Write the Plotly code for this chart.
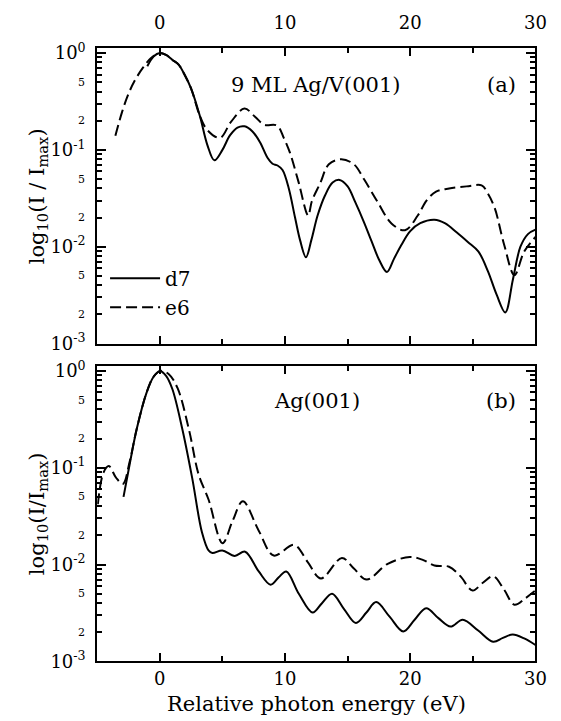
import math
import plotly.graph_objects as go

# ---------------- data ----------------
# Panel (a): 9 ML Ag/V(001)
a_d7_x = [-1.0, -0.5, 0.0, 0.5, 1.0, 1.5, 2.0, 2.5, 3.2, 3.8, 4.36, 5.0, 5.6, 6.2, 6.76, 7.4, 8.0,
          8.6, 9.0, 9.4, 9.8, 10.3, 10.8, 11.2, 11.67, 12.1, 12.6, 13.2, 13.8, 14.36, 15.0, 15.6,
          16.3, 16.9, 17.5, 18.14, 18.7, 19.3, 20.0, 20.8, 21.93, 22.8, 23.7, 24.6, 25.45, 26.2,
          26.9, 27.59, 28.2, 28.8, 29.4, 30.0]
a_d7_y = [0.73, 0.92, 1.0, 0.955, 0.85, 0.76, 0.59, 0.43, 0.224, 0.112, 0.078, 0.10, 0.141, 0.17,
          0.175, 0.155, 0.12, 0.083, 0.072, 0.069, 0.062, 0.040, 0.020, 0.0117, 0.0078, 0.0117,
          0.021, 0.034, 0.046, 0.049, 0.042, 0.029, 0.018, 0.0115, 0.0074, 0.0055, 0.0075, 0.0105,
          0.0145, 0.0175, 0.019, 0.0174, 0.0141, 0.0112, 0.0089, 0.0056, 0.0032, 0.0021, 0.0046,
          0.0100, 0.0135, 0.0150]
a_e6_x = [-3.55, -3.0, -2.5, -2.0, -1.33, -0.7, 0.0, 0.5, 1.0, 1.5, 2.0, 2.5, 3.2, 3.8, 4.8, 5.7,
          6.76, 7.6, 8.33, 9.37, 9.9, 10.4, 11.07, 11.85, 12.14, 12.8, 13.5, 14.49, 15.5, 16.3,
          17.36, 18.5, 19.58, 20.6, 21.3, 22.06, 23.1, 24.5, 25.7, 26.2, 26.75, 27.5, 28.32, 29.1,
          30.0]
a_e6_y = [0.14, 0.25, 0.38, 0.52, 0.71, 0.89, 1.0, 0.955, 0.85, 0.76, 0.59, 0.43, 0.224, 0.16,
          0.133, 0.196, 0.267, 0.22, 0.182, 0.178, 0.133, 0.093, 0.047, 0.021, 0.0295, 0.045,
          0.071, 0.080, 0.071, 0.050, 0.0295, 0.0174, 0.0148, 0.021, 0.030, 0.037, 0.040, 0.042,
          0.043, 0.0355, 0.025, 0.0105, 0.0051, 0.0089, 0.0126]

# Panel (b): Ag(001)
b_d7_x = [-2.9, -2.4, -1.85, -1.07, -0.5, 0.0, 0.5, 1.0, 1.8, 2.58, 3.37, 3.89, 4.2, 4.99, 5.98,
          6.81, 7.9, 8.85, 9.5, 10.1, 11.1, 12.2, 12.95, 13.76, 14.7, 15.66, 16.5, 17.28, 18.35,
          19.44, 20.35, 21.27, 22.25, 23.22, 24.19, 25.4, 26.62, 27.4, 28.19, 29.1, 30.0]
b_d7_y = [0.050, 0.11, 0.25, 0.59, 0.87, 1.0, 0.89, 0.65, 0.25, 0.079, 0.0214, 0.014, 0.0132,
          0.014, 0.0123, 0.0136, 0.0085, 0.0062, 0.0074, 0.0085, 0.0050, 0.0032, 0.0040, 0.0050,
          0.0035, 0.0025, 0.0032, 0.0041, 0.0029, 0.00204, 0.0027, 0.00355, 0.0028, 0.00229,
          0.0027, 0.0021, 0.0016, 0.00175, 0.0019, 0.00173, 0.00148]
b_e6_x = [-4.95, -4.5, -4.07, -3.5, -2.95, -2.4, -1.85, -1.07, -0.5, 0.1, 0.7, 1.41, 2.32, 3.1,
          3.89, 5.01, 5.8, 6.63, 7.9, 9.1, 10.73, 11.8, 12.87, 14.54, 15.5, 16.52, 18.2, 19.97,
          21.0, 21.93, 23.1, 24.0, 24.98, 25.8, 26.62, 27.5, 28.32, 29.2, 30.0]
b_e6_y = [0.042, 0.089, 0.104, 0.079, 0.068, 0.117, 0.25, 0.59, 0.87, 1.0, 0.93, 0.667, 0.25,
          0.085, 0.047, 0.0166, 0.028, 0.045, 0.0224, 0.0124, 0.016, 0.0107, 0.0072, 0.0117,
          0.0091, 0.0070, 0.0102, 0.0120, 0.0112, 0.0098, 0.0095, 0.0076, 0.0054, 0.0065, 0.0076,
          0.0055, 0.00385, 0.0045, 0.0054]

series_names = ["d7", "e6"]

x_tick_vals = [0, 10, 20, 30]
x_tick_text = ["0", "10", "20", "30"]
x_minor_vals = [5, 15, 25]

y_decade_vals = [1e-3, 1e-2, 1e-1, 1]
y_decade_text = ["10<sup>-3</sup>", "10<sup>-2</sup>", "10<sup>-1</sup>", "10<sup>0</sup>"]
y_small_vals = [2e-3, 5e-3, 2e-2, 5e-2, 0.2, 0.5]
y_small_text = ["2", "5", "2", "5", "2", "5"]

panel_a_label = "9 ML Ag/V(001)"
panel_b_label = "Ag(001)"
x_title = "Relative photon energy (eV)"
y_title_a = "log<sub>10</sub>(I / I<sub>max</sub>)"
y_title_b = "log<sub>10</sub>(I/I<sub>max</sub>)"

# ---------------- styling ----------------
W, H = 561, 721
FONT = "DejaVu Serif"
L, R = 91, 538
A_TOP, A_BOT = 33, 336
B_TOP, B_BOT = 359, 662


def px(xp):
    return xp / W


def py(yp):
    return 1 - yp / H


solid = dict(color="black", width=2)
dashed = dict(color="black", width=2, dash="11px,5px")

fig = go.Figure()
fig.add_trace(go.Scatter(x=a_e6_x, y=a_e6_y, mode="lines", line=dashed, line_shape="spline",
                         name=series_names[1], legendrank=2, xaxis="x", yaxis="y"))
fig.add_trace(go.Scatter(x=a_d7_x, y=a_d7_y, mode="lines", line=solid, line_shape="spline",
                         name=series_names[0], legendrank=1, xaxis="x", yaxis="y"))
fig.add_trace(go.Scatter(x=b_e6_x, y=b_e6_y, mode="lines", line=dashed, line_shape="spline",
                         name=series_names[1], showlegend=False, xaxis="x2", yaxis="y2"))
fig.add_trace(go.Scatter(x=b_d7_x, y=b_d7_y, mode="lines", line=solid, line_shape="spline",
                         name=series_names[0], showlegend=False, xaxis="x2", yaxis="y2"))

minor_y = [m * 10 ** e for e in (-3, -2, -1) for m in range(2, 10)]

common_x = dict(range=[-5, 30], tickmode="array", tickvals=x_tick_vals, ticktext=x_tick_text,
                ticks="inside", ticklen=8, tickwidth=2, tickcolor="black",
                showline=True, linewidth=2, linecolor="black", mirror="ticks",
                showgrid=False, zeroline=False,
                tickfont=dict(family=FONT, size=18, color="black"),
                minor=dict(tickmode="array", tickvals=x_minor_vals, ticks="inside", ticklen=5,
                           tickwidth=2, tickcolor="black", showgrid=False),
                domain=[px(L), px(R)])
common_y = dict(type="log", range=[-3, 0.05], tickmode="array", tickvals=y_decade_vals,
                ticktext=y_decade_text, ticks="inside", ticklen=9, tickwidth=2,
                tickcolor="black", showline=True, linewidth=2, linecolor="black",
                mirror="ticks", showgrid=False, zeroline=False, ticklabelstandoff=6,
                tickfont=dict(family=FONT, size=18, color="black"),
                minor=dict(tickmode="array", tickvals=minor_y, ticks="inside", ticklen=5,
                           tickwidth=1.5, tickcolor="black", showgrid=False))

fig.update_layout(
    width=W, height=H,
    margin=dict(l=0, r=0, t=0, b=0),
    paper_bgcolor="white", plot_bgcolor="white",
    font=dict(family=FONT, color="black"),
    xaxis=dict(common_x, anchor="y", side="top", ticklabelstandoff=10),
    yaxis=dict(common_y, anchor="x", domain=[py(A_BOT), py(A_TOP)]),
    xaxis2=dict(common_x, anchor="y2", side="bottom", ticklabelstandoff=0),
    yaxis2=dict(common_y, anchor="x2", domain=[py(B_BOT), py(B_TOP)]),
    showlegend=True,
    legend=dict(x=px(99), y=py(249), xanchor="left", yanchor="top",
                bgcolor="rgba(0,0,0,0)", font=dict(family=FONT, size=20, color="black"),
                itemwidth=50, tracegroupgap=0),
)

ann = []
for yref in ("y", "y2"):
    for v, t in zip(y_small_vals, y_small_text):
        ann.append(dict(x=px(L - 10), y=math.log10(v), xref="paper", yref=yref, text=t,
                        showarrow=False, xanchor="right", yanchor="middle",
                        font=dict(family=FONT, size=11, color="black")))

big = dict(family=FONT, size=21, color="black")
ann += [
    dict(x=px(314), y=py(71), xref="paper", yref="paper", text=panel_a_label, showarrow=False,
         font=big, xanchor="center", yanchor="middle"),
    dict(x=px(503), y=py(71), xref="paper", yref="paper", text="(a)", showarrow=False,
         font=big, xanchor="center", yanchor="middle"),
    dict(x=px(315), y=py(395), xref="paper", yref="paper", text=panel_b_label, showarrow=False,
         font=big, xanchor="center", yanchor="middle"),
    dict(x=px(503), y=py(395), xref="paper", yref="paper", text="(b)", showarrow=False,
         font=big, xanchor="center", yanchor="middle"),
    dict(x=px(314.5), y=py(706), xref="paper", yref="paper", text=x_title, showarrow=False,
         font=big, xanchor="center", yanchor="middle"),
    dict(x=px(30), y=py((A_TOP + A_BOT) / 2), xref="paper", yref="paper", text=y_title_a,
         showarrow=False, font=big, textangle=-90, xanchor="center", yanchor="middle"),
    dict(x=px(30), y=py((B_TOP + B_BOT) / 2), xref="paper", yref="paper", text=y_title_b,
         showarrow=False, font=big, textangle=-90, xanchor="center", yanchor="middle"),
]
fig.update_layout(annotations=ann)

fig.write_html("out.html")
